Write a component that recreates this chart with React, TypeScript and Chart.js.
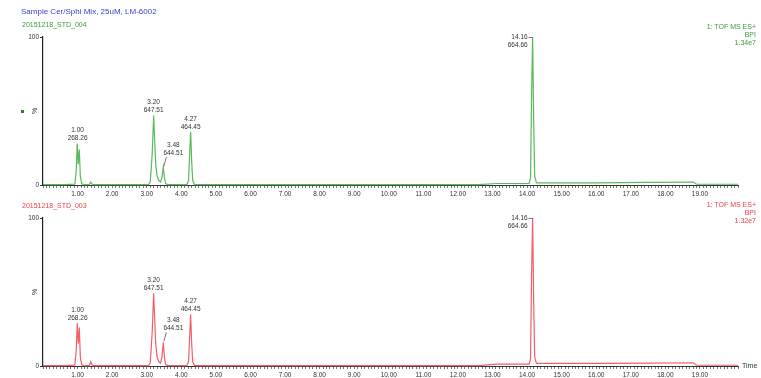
import React, { useEffect, useRef } from 'react';
import { Chart, registerables } from 'chart.js';

Chart.register(...registerables);

// ---------- text ----------
const sampleTitle = 'Sample Cer/Sphi Mix, 25uM, LM-6002';
const topRunName = '20151218_STD_004';
const bottomRunName = '20151218_STD_003';
const detectorName = '1: TOF MS ES+';
const traceKind = 'BPI';
const topFullScale = '1.34e7';
const bottomFullScale = '1.32e7';
const xAxisName = 'Time';
const yAxisName = '%';

// ---------- axes ----------
const xMin = 0;
const xMax = 20.1;
const xMinorStep = 0.1;
const xLabeledTicks = [1, 2, 3, 4, 5, 6, 7, 8, 9, 10, 11, 12, 13, 14, 15, 16, 17, 18, 19];
const xTickLabels = ['1.00', '2.00', '3.00', '4.00', '5.00', '6.00', '7.00', '8.00', '9.00', '10.00', '11.00', '12.00', '13.00', '14.00', '15.00', '16.00', '17.00', '18.00', '19.00'];
const yTickValues = [0, 100];

// ---------- traces (retention time, min / relative intensity, %) ----------
const topTimes = [0.00, 0.60, 0.92, 0.96, 0.99, 1.02, 1.05, 1.08, 1.12, 1.18, 1.34, 1.38, 1.43, 3.05, 3.10, 3.13, 3.16, 3.20, 3.23, 3.26, 3.30, 3.35, 3.40, 3.44, 3.48, 3.51, 3.55, 3.62, 4.16, 4.21, 4.24, 4.27, 4.30, 4.33, 4.38, 12.60, 13.10, 14.06, 14.10, 14.13, 14.16, 14.19, 14.22, 14.27, 16.00, 17.50, 18.80, 18.90, 20.10];
const topIntensity = [0.3, 0.3, 0.6, 9, 28, 14, 24, 6, 0.8, 0.3, 0.3, 2, 0.3, 0.3, 2, 11, 22, 47, 30, 14, 6, 3, 2, 5, 12, 5, 0.8, 0.3, 0.3, 3, 20, 36, 16, 3, 0.3, 0.3, 1.0, 1.0, 5, 60, 100, 45, 6, 1.5, 1.5, 1.8, 2.0, 0.5, 0.5];

const bottomTimes = [0.00, 0.60, 0.92, 0.96, 0.99, 1.02, 1.05, 1.08, 1.12, 1.18, 1.34, 1.38, 1.43, 3.05, 3.10, 3.13, 3.16, 3.20, 3.23, 3.26, 3.30, 3.35, 3.40, 3.44, 3.48, 3.51, 3.55, 3.62, 4.16, 4.21, 4.24, 4.27, 4.30, 4.33, 4.38, 12.60, 13.10, 14.06, 14.10, 14.13, 14.16, 14.19, 14.22, 14.27, 16.00, 17.50, 18.80, 18.90, 20.10];
const bottomIntensity = [0.3, 0.3, 0.6, 10, 29, 15, 26, 6, 0.8, 0.3, 0.3, 3, 0.3, 0.3, 2, 12, 24, 49, 32, 15, 6, 3, 2, 6, 16, 6, 0.8, 0.3, 0.3, 3, 19, 35, 15, 3, 0.3, 0.3, 1.2, 1.2, 5, 60, 100, 45, 6, 1.8, 1.8, 2.0, 2.2, 0.5, 0.5];

// ---------- peak annotations ----------
const peakTimes = [1.00, 3.20, 3.48, 4.27, 14.16];
const peakRtLabels = ['1.00', '3.20', '3.48', '4.27', '14.16'];
const peakMzLabels = ['268.26', '647.51', '644.51', '464.45', '664.66'];

// placement style of each annotation (offsets in px)
const peakPlacement = [
  { dx: 0, dy1: -13, dy2: -5, align: 'center', leader: 'none' },
  { dx: 0, dy1: -13, dy2: -5, align: 'center', leader: 'none' },
  { dx: 10, dy1: -22, dy2: -14, align: 'center', leader: 'diag' },
  { dx: 0, dy1: -13, dy2: -5, align: 'center', leader: 'none' },
  { dx: -5, dy1: 0, dy2: 8, align: 'right', leader: 'horiz' },
];

const FONT = '"Liberation Sans", Arial, Helvetica, sans-serif';

const peakLabelPlugin = {
  id: 'peakLabels',
  afterDatasetsDraw(chart: any) {
    const { ctx } = chart;
    const xs = chart.scales.x;
    const ys = chart.scales.y;
    const pts = chart.data.datasets[0].data as { x: number; y: number }[];
    ctx.save();
    ctx.font = `6.5px ${FONT}`;
    ctx.fillStyle = '#333';
    ctx.strokeStyle = '#555';
    ctx.lineWidth = 0.8;
    ctx.textBaseline = 'middle';
    peakTimes.forEach((t, i) => {
      let maxV = 0;
      pts.forEach((p) => {
        if (Math.abs(p.x - t) <= 0.05 && p.y > maxV) maxV = p.y;
      });
      const px = xs.getPixelForValue(t);
      const py = ys.getPixelForValue(maxV);
      const pl = peakPlacement[i];
      ctx.textAlign = pl.align;
      const tx = px + pl.dx;
      ctx.fillText(peakRtLabels[i], tx, py + pl.dy1);
      ctx.fillText(peakMzLabels[i], tx, py + pl.dy2);
      if (pl.leader === 'horiz') {
        ctx.beginPath();
        ctx.moveTo(px - 4, py + 0.5);
        ctx.lineTo(px, py + 0.5);
        ctx.stroke();
      } else if (pl.leader === 'diag') {
        ctx.beginPath();
        ctx.moveTo(px + 3, py + pl.dy2 + 4);
        ctx.lineTo(px + 0.5, py - 1);
        ctx.stroke();
      }
    });
    ctx.restore();
  },
};

type PanelProps = {
  times: number[];
  values: number[];
  color: string;
  height: number;
  padTop: number;
  xHeight: number;
};

function Panel({ times, values, color, height, padTop, xHeight }: PanelProps) {
  const ref = useRef<HTMLCanvasElement>(null);
  useEffect(() => {
    const canvas = ref.current;
    if (!canvas) return;
    const chart = new Chart(canvas, {
      type: 'line',
      data: {
        datasets: [
          {
            data: times.map((t, i) => ({ x: t, y: values[i] })),
            borderColor: color,
            borderWidth: 1.2,
            pointRadius: 0,
            tension: 0,
            fill: false,
            clip: 4,
          } as any,
        ],
      },
      options: {
        responsive: false,
        animation: false,
        devicePixelRatio: 1,
        layout: { padding: { left: 21, right: 23, top: padTop, bottom: 0 } },
        plugins: { legend: { display: false }, tooltip: { enabled: false } },
        scales: {
          x: {
            type: 'linear',
            min: xMin,
            max: xMax,
            afterBuildTicks: (s: any) => {
              const n = Math.round((xMax - xMin) / xMinorStep);
              const arr: { value: number }[] = [];
              for (let i = 0; i <= n; i++) arr.push({ value: xMin + i * xMinorStep });
              s.ticks = arr;
            },
            afterFit: (s: any) => {
              s.height = xHeight;
            },
            ticks: {
              autoSkip: false,
              maxRotation: 0,
              minRotation: 0,
              padding: 2,
              color: '#333',
              font: { family: FONT, size: 6.5 },
              callback: (v: any) => {
                const idx = xLabeledTicks.findIndex((t) => Math.abs(t - Number(v)) < 1e-6);
                return idx >= 0 ? xTickLabels[idx] : '';
              },
            },
            grid: { drawOnChartArea: false, drawTicks: true, tickLength: 3, tickColor: '#555', tickWidth: 0.8 },
            border: { display: true, color: '#333', width: 1 },
          },
          y: {
            min: 0,
            max: 100,
            afterBuildTicks: (s: any) => {
              s.ticks = yTickValues.map((v) => ({ value: v }));
            },
            afterFit: (s: any) => {
              s.width = 22;
            },
            ticks: { padding: 1, color: '#333', font: { family: FONT, size: 6.5 } },
            grid: { drawOnChartArea: false, drawTicks: true, tickLength: 3, tickColor: '#333' },
            border: { display: true, color: '#222', width: 1.2 },
            title: {
              display: true,
              text: yAxisName,
              color: '#333',
              font: { family: FONT, size: 7 },
              padding: { top: 10, bottom: 0 },
            },
          },
        },
      } as any,
      plugins: [peakLabelPlugin as any],
    });
    return () => chart.destroy();
  }, []);
  return <canvas ref={ref} width={761} height={height} style={{ display: 'block', width: 761, height }} />;
}

const txt = (extra: React.CSSProperties): React.CSSProperties => ({
  position: 'absolute',
  fontFamily: FONT,
  lineHeight: 1,
  whiteSpace: 'nowrap',
  ...extra,
});

export default function App() {
  return (
    <div style={{ position: 'fixed', left: 0, top: 0, width: 761, height: 378, background: '#fff', overflow: 'hidden' }}>
      <div style={{ position: 'absolute', left: 0, top: 0 }}>
        <Panel times={topTimes} values={topIntensity} color="#5cb85c" height={200} padTop={37} xHeight={15} />
      </div>
      <div style={{ position: 'absolute', left: 0, top: 200 }}>
        <Panel times={bottomTimes} values={bottomIntensity} color="#f0606a" height={178} padTop={18} xHeight={12} />
      </div>

      <span style={txt({ left: 21, top: 8, fontSize: 8, color: '#3c3cd0' })}>{sampleTitle}</span>
      <span style={txt({ left: 22, top: 21, fontSize: 7, color: '#3a9a3a' })}>{topRunName}</span>
      <div style={{ position: 'absolute', left: 21, top: 110, width: 3, height: 3, background: '#1e8a1e' }} />

      <div style={txt({ right: 5, top: 23, fontSize: 7, color: '#3a9a3a', textAlign: 'right', lineHeight: '8px' })}>
        <div>{detectorName}</div>
        <div>{traceKind}</div>
        <div>{topFullScale}</div>
      </div>

      <span style={txt({ left: 22, top: 202, fontSize: 7, color: '#e8404a' })}>{bottomRunName}</span>
      <div style={txt({ right: 5, top: 201, fontSize: 7, color: '#e8404a', textAlign: 'right', lineHeight: '8px' })}>
        <div>{detectorName}</div>
        <div>{traceKind}</div>
        <div>{bottomFullScale}</div>
      </div>

      <span style={txt({ left: 742, top: 362, fontSize: 7, color: '#333' })}>{xAxisName}</span>
    </div>
  );
}
